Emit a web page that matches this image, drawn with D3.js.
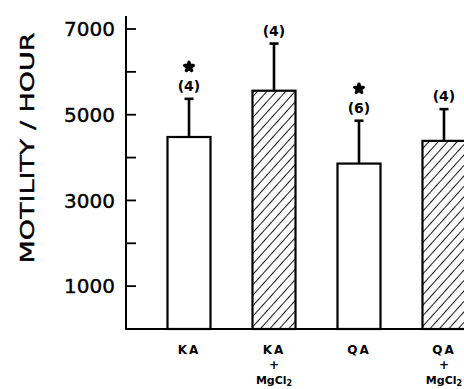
<!DOCTYPE html>
<html>
<head>
<meta charset="utf-8">
<script src="https://cdn.jsdelivr.net/npm/d3@7"></script>
<style>
  body { margin: 0; background: #fff; }
  svg { display: block; }
</style>
</head>
<body>
<div id="chart"></div>
<script>
// data
const categories = ["KA", "KA+MgCl2", "QA", "QA+MgCl2"];
const lineOne = ["KA", "KA", "QA", "QA"];
const hasMg = [false, true, false, true];
const means = [4480, 5560, 3860, 4390];
const errors = [890, 1100, 1000, 740];
const nLabels = ["(4)", "(4)", "(6)", "(4)"];
const starred = [true, false, true, false];
const yTicks = [1000, 2000, 3000, 4000, 5000, 6000, 7000];
const yLabels = [1000, 3000, 5000, 7000];

const width = 464, height = 389;
const svg = d3.select("#chart").append("svg")
  .attr("width", width)
  .attr("height", height);

// hatch pattern for the MgCl2 bars
const defs = svg.append("defs");
defs.append("pattern")
  .attr("id", "hatch")
  .attr("patternUnits", "userSpaceOnUse")
  .attr("width", 7)
  .attr("height", 7)
  .attr("patternTransform", "rotate(42)")
  .append("line")
  .attr("x1", 0).attr("y1", 0)
  .attr("x2", 0).attr("y2", 7)
  .attr("stroke", "#000")
  .attr("stroke-width", 1.8);

const x = d3.scaleBand()
  .domain(categories)
  .range([125, 508])
  .paddingInner(0.494)
  .paddingOuter(0.5);

const y = d3.scaleLinear()
  .domain([0, 7000])
  .range([329, 29]);

const axisX = 126;

// y axis line + ticks pointing inward
svg.append("line")
  .attr("x1", axisX).attr("x2", axisX)
  .attr("y1", 16).attr("y2", y(0))
  .attr("stroke", "#000").attr("stroke-width", 2);

svg.selectAll(".ytick")
  .data(yTicks)
  .join("line")
  .attr("x1", axisX).attr("x2", axisX + 10)
  .attr("y1", d => y(d)).attr("y2", d => y(d))
  .attr("stroke", "#000").attr("stroke-width", 1.8);

svg.selectAll(".ylab")
  .data(yLabels)
  .join("text")
  .attr("x", 115)
  .attr("y", d => y(d))
  .attr("dy", "0.36em")
  .attr("text-anchor", "end")
  .attr("font-family", "DejaVu Sans, sans-serif")
  .attr("font-size", 20)
  .attr("stroke", "#000")
  .attr("stroke-width", 0.4)
  .attr("fill", "#000")
  .text(d => d);

// axis title
svg.append("text")
  .attr("transform", `translate(34, 148) rotate(-90)`)
  .attr("text-anchor", "middle")
  .attr("font-family", "DejaVu Sans, sans-serif")
  .attr("font-size", 20)
  .attr("textLength", 231)
  .attr("lengthAdjust", "spacingAndGlyphs")
  .attr("stroke", "#000")
  .attr("stroke-width", 0.4)
  .attr("fill", "#000")
  .text("MOTILITY / HOUR");

// bars
const bars = svg.selectAll(".bar")
  .data(categories)
  .join("g");

bars.append("rect")
  .attr("x", d => x(d))
  .attr("y", (d, i) => y(means[i]))
  .attr("width", x.bandwidth())
  .attr("height", (d, i) => y(0) - y(means[i]))
  .attr("fill", (d, i) => hasMg[i] ? "url(#hatch)" : "#fff")
  .attr("stroke", "#000")
  .attr("stroke-width", 2.2);

// error bars
const cx = d => x(d) + x.bandwidth() / 2;
bars.append("line")
  .attr("x1", cx).attr("x2", cx)
  .attr("y1", (d, i) => y(means[i]))
  .attr("y2", (d, i) => y(means[i] + errors[i]))
  .attr("stroke", "#000").attr("stroke-width", 2.6);
bars.append("line")
  .attr("x1", d => cx(d) - 4.5).attr("x2", d => cx(d) + 4.5)
  .attr("y1", (d, i) => y(means[i] + errors[i]))
  .attr("y2", (d, i) => y(means[i] + errors[i]))
  .attr("stroke", "#000").attr("stroke-width", 2.6);

// n labels
bars.append("text")
  .attr("x", cx)
  .attr("y", (d, i) => y(means[i] + errors[i]) - 13)
  .attr("dy", "0.36em")
  .attr("text-anchor", "middle")
  .attr("font-family", "DejaVu Sans, sans-serif")
  .attr("font-weight", "bold")
  .attr("font-size", 14)
  .text((d, i) => nLabels[i]);

// significance marks (small filled blobs)
bars.filter((d, i) => starred[i])
  .append("path")
  .attr("d", d3.symbol(d3.symbolStar, 24))
  .attr("transform", d => {
    const i = categories.indexOf(d);
    return `translate(${cx(d)},${y(means[i] + errors[i]) - 32})`;
  })
  .attr("fill", "#000")
  .attr("stroke", "#000")
  .attr("stroke-width", 3.2)
  .attr("stroke-linejoin", "round");

// x baseline
svg.append("line")
  .attr("x1", axisX - 1).attr("x2", width)
  .attr("y1", y(0)).attr("y2", y(0))
  .attr("stroke", "#000").attr("stroke-width", 2);

// x labels
const xl = svg.selectAll(".xlab")
  .data(categories)
  .join("g")
  .attr("font-family", "DejaVu Sans, sans-serif")
  .attr("font-weight", "bold")
  .attr("text-anchor", "middle")
  .attr("fill", "#000");

xl.append("text")
  .attr("x", cx).attr("y", 354)
  .attr("font-size", 12)
  .attr("letter-spacing", 2)
  .text((d, i) => lineOne[i]);

xl.filter((d, i) => hasMg[i]).append("text")
  .attr("x", cx).attr("y", 369)
  .attr("font-size", 12)
  .text("+");

const mg = xl.filter((d, i) => hasMg[i]).append("text")
  .attr("x", cx).attr("y", 384)
  .attr("font-size", 11);
mg.append("tspan").text("MgCl");
mg.append("tspan").attr("font-size", 8).attr("dy", 2).text("2");
</script>
</body>
</html>
